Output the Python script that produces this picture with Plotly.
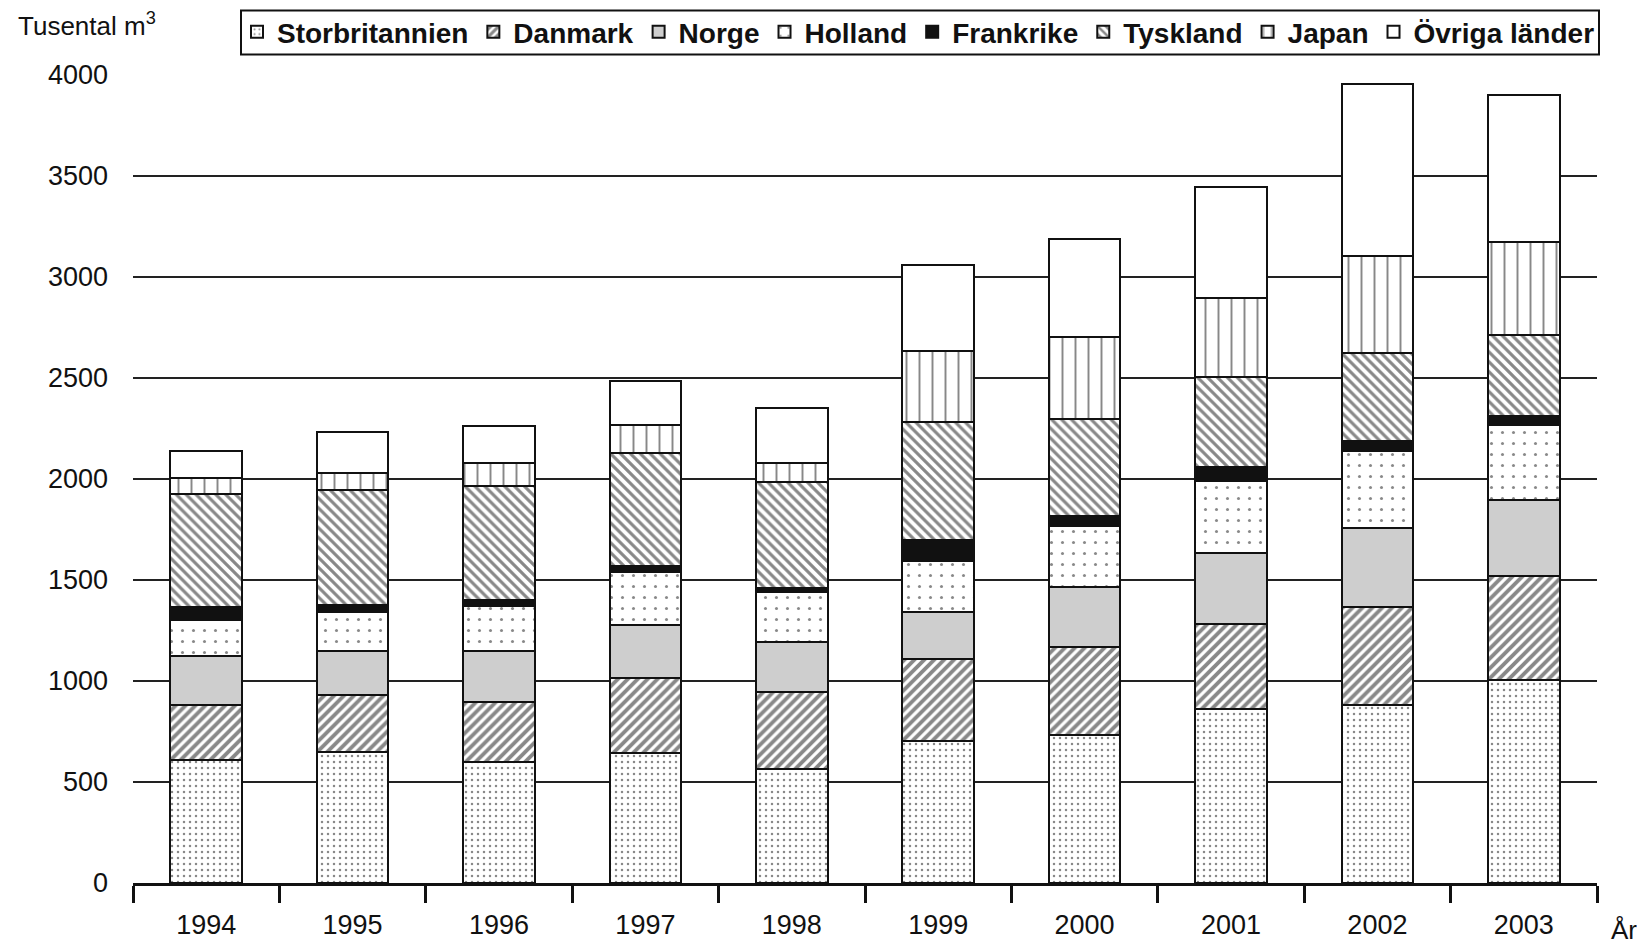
import plotly.graph_objects as go

years = ["1994", "1995", "1996", "1997", "1998", "1999", "2000", "2001", "2002", "2003"]

storbritannien = [610, 647, 601, 644, 566, 705, 731, 861, 880, 1004]
danmark        = [272, 283, 297, 369, 379, 403, 439, 420, 487, 517]
norge          = [242, 220, 252, 265, 250, 233, 297, 352, 392, 374]
holland        = [178, 190, 222, 260, 244, 253, 300, 359, 378, 374]
frankrike      = [66, 37, 29, 31, 21, 102, 51, 67, 52, 45]
tyskland       = [558, 569, 566, 561, 524, 584, 479, 445, 436, 397]
japan          = [77, 85, 114, 135, 94, 353, 405, 392, 480, 462]
ovriga         = [137, 203, 183, 218, 275, 424, 488, 548, 852, 727]

y_ticks = [0, 500, 1000, 1500, 2000, 2500, 3000, 3500, 4000]

series = [
    ("Storbritannien", storbritannien, "white", dict(shape=".", size=6, solidity=0.14)),
    ("Danmark", danmark, "white", dict(shape="/", size=7, solidity=0.55)),
    ("Norge", norge, "#cecece", dict(shape="")),
    ("Holland", holland, "white", dict(shape=".", size=11, solidity=0.06)),
    ("Frankrike", frankrike, "#111111", dict(shape="")),
    ("Tyskland", tyskland, "white", dict(shape="\\", size=7, solidity=0.45)),
    ("Japan", japan, "white", dict(shape="|", size=13, solidity=0.15)),
    ("Övriga länder", ovriga, "white", dict(shape="")),
]

# page body has an 8px margin, so the figure is sized and placed accordingly
W_FIG, H_FIG = 1637, 936
L, R, T, B = 125, 48, 67, 61
PW = W_FIG - L - R
PH = H_FIG - T - B


def px_x(x):
    return (x - L) / PW


def px_y(y):
    return 1 - (y - T) / PH


fig = go.Figure()
for name, vals, col, pat in series:
    p = dict(pat)
    p["fgcolor"] = "#111111"
    p["bgcolor"] = col
    fig.add_trace(go.Bar(
        x=years, y=vals, name=name,
        marker=dict(color=col, pattern=p, line=dict(color="#111111", width=2)),
    ))

fig.update_layout(
    barmode="stack",
    bargap=0.51,
    width=W_FIG, height=H_FIG,
    margin=dict(l=L, r=R, t=T, b=B, autoexpand=False),
    plot_bgcolor="white", paper_bgcolor="white",
    font=dict(family="Liberation Sans, Arial, sans-serif", color="#111111", size=27),
    legend=dict(
        orientation="h", x=px_x(229), y=px_y(24), xanchor="left", yanchor="middle",
        borderwidth=0, bgcolor="rgba(0,0,0,0)",
        font=dict(size=28, weight="bold", color="#111111"),
        traceorder="normal", itemwidth=30, tracegroupgap=0,
    ),
    showlegend=True,
)
fig.add_shape(type="rect", xref="paper", yref="paper",
              x0=px_x(233), x1=px_x(1591), y0=px_y(46.5), y1=px_y(2.5),
              line=dict(color="#111111", width=2), fillcolor="rgba(0,0,0,0)", layer="above")
fig.update_xaxes(
    type="category", tickson="boundaries", ticks="outside", ticklen=17,
    tickwidth=3, tickcolor="#111111", showline=True, linewidth=3,
    linecolor="#111111", tickfont=dict(size=27), ticklabelstandoff=16,
    showgrid=False,
)
fig.update_yaxes(
    range=[0, 4000], tickvals=y_ticks, showgrid=True, gridcolor="#222222",
    gridwidth=2, zeroline=False, showline=False, tickfont=dict(size=27),
    ticklabelstandoff=24,
)
fig.add_annotation(text="Tusental m<sup>3</sup>", xref="paper", yref="paper",
                   x=px_x(8), y=px_y(16), xanchor="left", yanchor="middle",
                   showarrow=False, font=dict(size=26))
fig.add_annotation(text="År", xref="paper", yref="paper",
                   x=px_x(1631), y=px_y(922), xanchor="right", yanchor="middle",
                   showarrow=False, font=dict(size=26))

fig.write_html("out.html")
